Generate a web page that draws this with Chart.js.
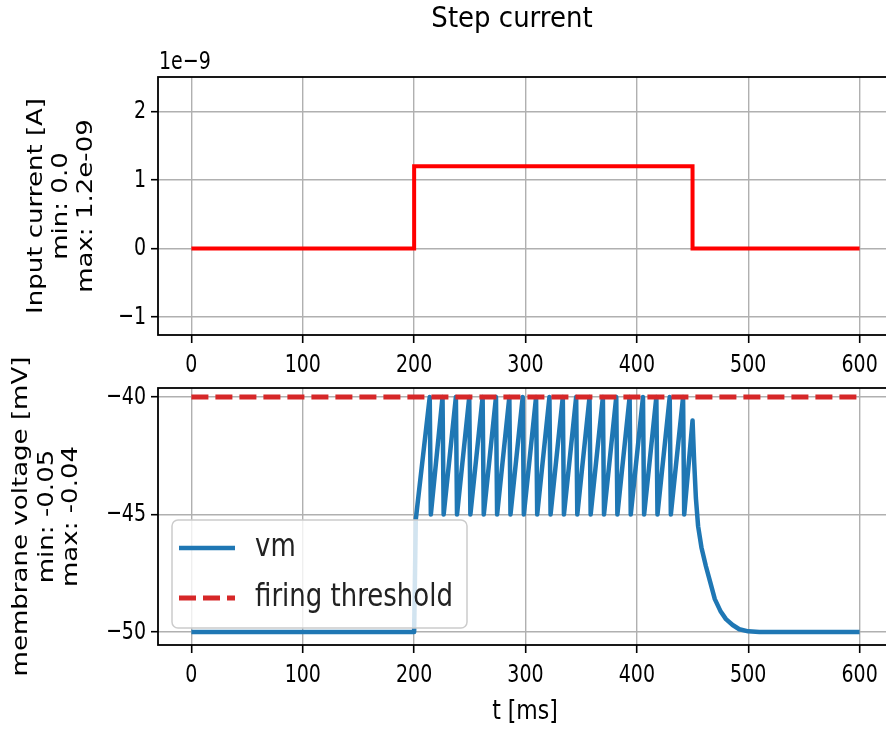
<!DOCTYPE html>
<html>
<head>
<meta charset="utf-8">
<script src="https://cdn.jsdelivr.net/npm/chart.js@4.4.0/dist/chart.umd.min.js"></script>
<style>
  html, body { margin: 0; padding: 0; background: #fff; overflow: hidden; }
  #wrap { position: relative; width: 886px; height: 731px; overflow: hidden; }
  canvas { position: absolute; left: 0; }
  #current-chart { top: 0; }
  #vm-chart { top: 340px; }
</style>
</head>
<body>
<div id="wrap">
  <canvas id="current-chart" width="900" height="380"></canvas>
  <canvas id="vm-chart" width="900" height="391"></canvas>
</div>
<script>
// --- input current (units of 1e-9 A) ---
const currentTime = [0, 200, 200, 450, 450, 600];
const currentValue = [0, 0, 1.2, 1.2, 0, 0];

// --- membrane voltage trace [mV] ---
const vmTime = [
  0, 200, 201.5,
  214, 215, 225.5, 226.5, 237.5, 238.5, 249.5, 250.5, 261.5, 262.5,
  273.5, 274.5, 285.5, 286.5, 297.5, 298.5, 309.5, 310.5, 321.5, 322.5,
  333.5, 334.5, 345.5, 346.5, 357.5, 358.5, 369.5, 370.5, 381.5, 382.5,
  393.5, 394.5, 405.5, 406.5, 417.5, 418.5, 429.5, 430.5, 441.5, 442.5,
  450, 451.5, 453, 455, 458, 462, 466, 470, 475, 480, 486, 492, 500, 510, 600
];
const vmValue = [
  -50, -50, -45.2,
  -40, -45, -40, -45, -40, -45, -40, -45, -40, -45,
  -40, -45, -40, -45, -40, -45, -40, -45, -40, -45,
  -40, -45, -40, -45, -40, -45, -40, -45, -40, -45,
  -40, -45, -40, -45, -40, -45, -40, -45, -40, -45,
  -41, -42.8, -44.3, -45.5, -46.4, -47.2, -47.9, -48.6, -49.1, -49.45, -49.7, -49.88, -49.97, -50, -50
];

// --- firing threshold [mV] ---
const thresholdTime = [0, 600];
const thresholdValue = [-40, -40];

// --- tick labels ---
const timeTicks = [0, 100, 200, 300, 400, 500, 600];
const currentTicks = [-1, 0, 1, 2];
const vmTicks = [-50, -45, -40];

const FONT = '"DejaVu Sans", sans-serif';
const GRID = '#b0b0b0';
const MINUS = '\u2212';

const toPoints = (xs, ys) => xs.map((x, i) => ({ x: x, y: ys[i] }));
const fmt = v => (v < 0 ? MINUS + Math.abs(v) : String(v));

// text with a vertical stretch, optionally rotated for y labels
function text(ctx, str, x, y, size, o) {
  o = o || {};
  const k = o.stretch || 1;
  ctx.save();
  ctx.translate(x, y);
  if (o.rotate) {
    ctx.rotate(-Math.PI / 2);
    ctx.scale(k, 1);
  } else {
    ctx.scale(1, k);
  }
  ctx.font = size + 'px ' + FONT;
  ctx.fillStyle = o.color || '#000';
  ctx.textAlign = o.align || 'center';
  ctx.textBaseline = 'middle';
  ctx.fillText(str, 0, 0);
  ctx.restore();
}

function timeAxis(height) {
  return {
    type: 'linear',
    min: -30,
    max: 630,
    afterBuildTicks: s => { s.ticks = timeTicks.map(v => ({ value: v })); },
    afterFit: s => { s.height = height; },
    grid: { color: GRID, lineWidth: 1.4, tickLength: 8, tickColor: '#000', tickWidth: 1.6 },
    border: { display: false },
    ticks: { display: false }
  };
}

function valueAxis(min, max, ticks) {
  return {
    type: 'linear',
    min: min,
    max: max,
    afterBuildTicks: s => { s.ticks = ticks.map(v => ({ value: v })); },
    afterFit: s => { s.width = 158; },
    grid: { color: GRID, lineWidth: 1.4, tickLength: 7, tickColor: '#000', tickWidth: 1.6 },
    border: { display: false },
    ticks: { display: false }
  };
}

// frame, tick labels and axis labels, in matplotlib style
function axesDecor(opts) {
  return {
    id: 'axesDecor',
    afterDatasetsDraw(chart) {
      const ctx = chart.ctx;
      const a = chart.chartArea;
      ctx.save();
      ctx.strokeStyle = '#000';
      ctx.lineWidth = 1.8;
      ctx.strokeRect(a.left, a.top, a.right - a.left, a.bottom - a.top);
      ctx.restore();
      if (opts.legend) opts.legend(ctx, chart);
    },
    afterDraw(chart) {
      const ctx = chart.ctx;
      const a = chart.chartArea;
      const sx = chart.scales.x;
      const sy = chart.scales.y;
      sx.ticks.forEach(t => {
        text(ctx, fmt(t.value), sx.getPixelForValue(t.value), a.bottom + 30, 19, { stretch: 1.35 });
      });
      sy.ticks.forEach(t => {
        text(ctx, fmt(t.value), 146, sy.getPixelForValue(t.value), 19, { stretch: 1.35, align: 'right' });
      });
      const midY = (a.top + a.bottom) / 2;
      opts.yLabel.forEach((line, i) => {
        text(ctx, line, opts.yLabelX[i], midY, 21, { rotate: true, stretch: 1.24 });
      });
      if (opts.extra) opts.extra(ctx, chart);
    }
  };
}

const baseOptions = {
  responsive: false,
  animation: false,
  events: [],
  plugins: { legend: { display: false }, tooltip: { enabled: false } }
};

// --- top panel: input current ---
new Chart(document.getElementById('current-chart'), {
  type: 'line',
  data: {
    datasets: [{
      data: toPoints(currentTime, currentValue),
      borderColor: '#ff0000',
      borderWidth: 4,
      pointRadius: 0,
      tension: 0,
      fill: false
    }]
  },
  options: Object.assign({}, baseOptions, {
    layout: { padding: { left: 0, right: 7, top: 77, bottom: 0 } },
    scales: { x: timeAxis(45), y: valueAxis(-1.26, 2.5, currentTicks) }
  }),
  plugins: [axesDecor({
    yLabel: ['Input current [A]', 'min: 0.0', 'max: 1.2e-09'],
    yLabelX: [37, 62, 87],
    extra(ctx) {
      text(ctx, 'Step current', 512, 20, 26, { stretch: 1.1 });
      text(ctx, '1e' + MINUS + '9', 159, 62, 19, { stretch: 1.35, align: 'left' });
    }
  })]
});

// --- bottom panel: membrane voltage ---
new Chart(document.getElementById('vm-chart'), {
  type: 'line',
  data: {
    datasets: [{
      label: 'firing threshold',
      data: toPoints(thresholdTime, thresholdValue),
      borderColor: '#d62728',
      borderWidth: 5,
      borderDash: [17, 7],
      pointRadius: 0,
      tension: 0,
      fill: false
    }, {
      label: 'vm',
      data: toPoints(vmTime, vmValue),
      borderColor: '#1f77b4',
      borderWidth: 4.5,
      borderJoinStyle: 'round',
      pointRadius: 0,
      tension: 0,
      fill: false
    }]
  },
  options: Object.assign({}, baseOptions, {
    layout: { padding: { left: 0, right: 7, top: 48, bottom: 0 } },
    scales: { x: timeAxis(86), y: valueAxis(-50.55, -39.62, vmTicks) }
  }),
  plugins: [axesDecor({
    yLabel: ['membrane voltage [mV]', 'min: -0.05', 'max: -0.04'],
    yLabelX: [22, 48, 72],
    legend(ctx, chart) {
      const ds = chart.data.datasets;
      ctx.save();
      ctx.beginPath();
      ctx.roundRect(172, 180, 295, 108, 6);
      ctx.fillStyle = 'rgba(255,255,255,0.8)';
      ctx.fill();
      ctx.strokeStyle = '#cccccc';
      ctx.lineWidth = 1.5;
      ctx.stroke();
      const rows = [
        { ds: ds[1], y: 208 },
        { ds: ds[0], y: 258 }
      ];
      rows.forEach(r => {
        ctx.beginPath();
        ctx.setLineDash(r.ds.borderDash || []);
        ctx.strokeStyle = r.ds.borderColor;
        ctx.lineWidth = r.ds.borderWidth;
        ctx.moveTo(179, r.y);
        ctx.lineTo(235, r.y);
        ctx.stroke();
        ctx.setLineDash([]);
        text(ctx, r.ds.label, 255, r.y, 26, { stretch: 1.24, align: 'left', color: '#222' });
      });
      ctx.restore();
    },
    extra(ctx) {
      text(ctx, 't [ms]', 525, 372, 22, { stretch: 1.18 });
    }
  })]
});
</script>
</body>
</html>
